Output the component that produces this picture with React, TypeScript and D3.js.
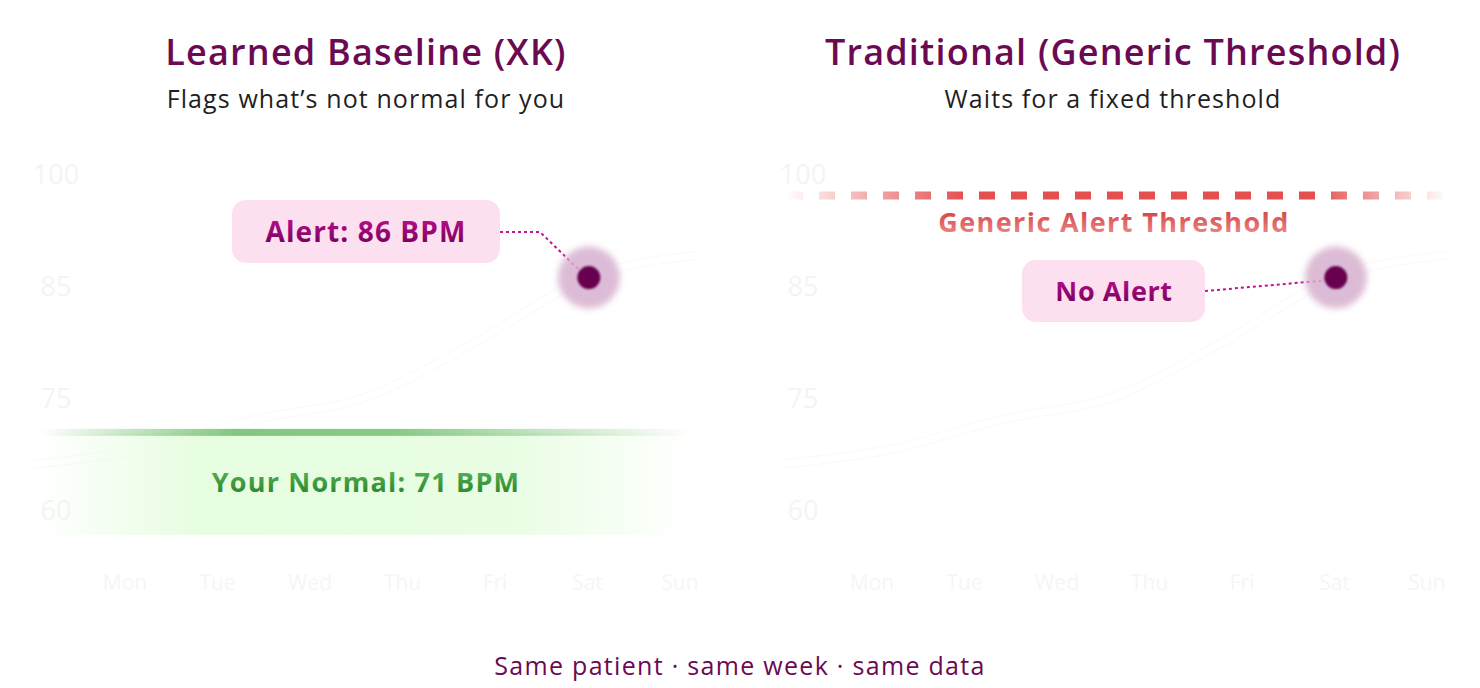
import React from "react";
import * as d3 from "d3";

// week of resting heart-rate readings (same data in both panels)
const days = ["Mon", "Tue", "Wed", "Thu", "Fri", "Sat", "Sun"];
const heartRate = [66, 68, 72, 75, 80, 86, 89];
const yTicks = [100, 85, 75, 60];
const baselineBpm = 71;
const thresholdBpm = 97;
const alertDay = "Sat";

const titles = ["Learned Baseline (XK)", "Traditional (Generic Threshold)"];
const subtitles = ["Flags what’s not normal for you", "Waits for a fixed threshold"];
const footer = "Same patient · same week · same data";

const W = 1480;
const H = 688;
const FONT = "'Open Sans', Lato, sans-serif";
const PURPLE = "#6b0a52";

// tick labels are evenly spaced even though the values are not
const y = d3.scaleLinear().domain([60, 75, 85, 100]).range([509, 397, 285, 173]);

const panelOffsets = [0, 747];

function Panel({ idx, ox }: { idx: number; ox: number }) {
  const lineX = d3.scalePoint<string>().domain(days).range([33 + ox, 700 + ox]);
  const labelX = d3.scalePoint<string>().domain(days).range([125 + ox, 680 + ox]);
  const cx = 366 + ox;

  const line = d3
    .line<number>()
    .x((_, i) => lineX(days[i])!)
    .y((d) => y(d))
    .curve(d3.curveMonotoneX);
  const path = line(heartRate) || "";

  const ai = days.indexOf(alertDay);
  const dotX = lineX(alertDay)!;
  const dotY = y(heartRate[ai]);

  return (
    <g>
      <text x={cx} y={51} textAnchor="middle" dominantBaseline="central" fontSize={36} fontWeight={600} letterSpacing={1.2} fill={PURPLE}>
        {titles[idx]}
      </text>
      <text x={cx} y={98} textAnchor="middle" dominantBaseline="central" fontSize={25} letterSpacing={1.1} fill="#1f1f1f">
        {subtitles[idx]}
      </text>

      {/* y tick labels */}
      {yTicks.map((t) => (
        <text key={t} x={56 + ox} y={y(t)} textAnchor="middle" dominantBaseline="central" fontSize={27} fill="#f4f4f4">
          {t}
        </text>
      ))}
      {/* day labels */}
      {days.map((d) => (
        <text key={d} x={labelX(d)} y={582} textAnchor="middle" dominantBaseline="central" fontSize={21} fill="#f6f6f6">
          {d}
        </text>
      ))}

      {/* faint heart-rate line */}
      <path d={path} fill="none" stroke="#f9f9f9" strokeWidth={9} />
      <path d={path} fill="none" stroke="#ffffff" strokeWidth={7} />

      {idx === 0 ? (
        <g>
          <rect x={40} y={y(baselineBpm) + 6} width={650} height={102} fill="url(#greenBand)" />
          <rect x={40} y={y(baselineBpm) + 2} width={650} height={7} fill="url(#greenLine)" />
          <text x={cx} y={481} textAnchor="middle" dominantBaseline="central" fontSize={27} fontWeight={700} letterSpacing={1.2} fill="url(#greenText)">
            Your Normal: {baselineBpm} BPM
          </text>

          <path
            d={`M500,232 L540,232 L${dotX - 8},${dotY - 6}`}
            fill="none"
            stroke="#c2128f"
            strokeWidth={2}
            strokeDasharray="3 3"
          />
          <rect x={232} y={200} width={268} height={63} rx={14} fill="#fde0ef" />
          <text x={366} y={231} textAnchor="middle" dominantBaseline="central" fontSize={28} fontWeight={700} letterSpacing={1.1} fill="url(#alertText)">
            Alert: {heartRate[ai]} BPM
          </text>
        </g>
      ) : (
        <g>
          <line
            x1={785}
            x2={1447}
            y1={y(thresholdBpm)}
            y2={y(thresholdBpm)}
            stroke="url(#redLine)"
            strokeWidth={8}
            strokeDasharray="16 16"
            strokeDashoffset={-2}
          />
          <text x={1114} y={221} textAnchor="middle" dominantBaseline="central" fontSize={27} fontWeight={700} letterSpacing={1.4} fill="url(#redText)">
            Generic Alert Threshold
          </text>

          <line x1={1205} y1={291} x2={dotX - 12} y2={dotY + 3} stroke="#c2128f" strokeWidth={2} strokeDasharray="3 3" />
          <rect x={1022} y={260} width={183} height={62} rx={14} fill="#fde0ef" />
          <text x={1114} y={290} textAnchor="middle" dominantBaseline="central" fontSize={27} fontWeight={700} letterSpacing={0.6} fill="url(#alertText)">
            No Alert
          </text>
        </g>
      )}

      {/* flagged reading */}
      <circle cx={dotX} cy={dotY} r={31} fill="#d7b0cf" opacity={0.85} filter="url(#halo)" />
      <circle cx={dotX} cy={dotY} r={11.5} fill="#680550" filter="url(#soft)" />
    </g>
  );
}

export default function App() {
  return (
    <svg
      width={W}
      height={H}
      style={{ position: "absolute", left: 0, top: 0, display: "block", background: "#fff" }}
      fontFamily={FONT}
    >
      <defs>
        <linearGradient id="greenLine" x1="0" x2="1" y1="0" y2="0">
          <stop offset="0" stopColor="#7cc47a" stopOpacity={0} />
          <stop offset="0.3" stopColor="#7cc47a" stopOpacity={0.95} />
          <stop offset="0.55" stopColor="#7cc47a" stopOpacity={0.9} />
          <stop offset="1" stopColor="#7cc47a" stopOpacity={0} />
        </linearGradient>
        <linearGradient id="greenBand" x1="0" x2="1" y1="0" y2="0">
          <stop offset="0" stopColor="#e6fde0" stopOpacity={0} />
          <stop offset="0.25" stopColor="#e6fde0" stopOpacity={1} />
          <stop offset="0.72" stopColor="#e6fde0" stopOpacity={0.9} />
          <stop offset="1" stopColor="#e6fde0" stopOpacity={0} />
        </linearGradient>
        <linearGradient id="greenText" x1="0" x2="0" y1="0" y2="1">
          <stop offset="0" stopColor="#62bb62" />
          <stop offset="1" stopColor="#237f23" />
        </linearGradient>
        <linearGradient id="alertText" x1="0" x2="0" y1="0" y2="1">
          <stop offset="0" stopColor="#cc0f9c" />
          <stop offset="1" stopColor="#66004e" />
        </linearGradient>
        <linearGradient id="redText" x1="0" x2="0" y1="0" y2="1">
          <stop offset="0" stopColor="#c62f30" />
          <stop offset="1" stopColor="#f59494" />
        </linearGradient>
        <linearGradient id="redLine" gradientUnits="userSpaceOnUse" x1={785} x2={1447} y1={0} y2={0}>
          <stop offset="0" stopColor="#e25050" stopOpacity={0} />
          <stop offset="0.27" stopColor="#e25050" stopOpacity={1} />
          <stop offset="0.8" stopColor="#e25050" stopOpacity={1} />
          <stop offset="1" stopColor="#e25050" stopOpacity={0} />
        </linearGradient>
        <filter id="halo" x="-50%" y="-50%" width="200%" height="200%">
          <feGaussianBlur stdDeviation={3} />
        </filter>
        <filter id="soft" x="-50%" y="-50%" width="200%" height="200%">
          <feGaussianBlur stdDeviation={0.8} />
        </filter>
      </defs>

      {panelOffsets.map((ox, i) => (
        <Panel key={i} idx={i} ox={ox} />
      ))}

      <text x={740} y={665} textAnchor="middle" dominantBaseline="central" fontSize={25} letterSpacing={1.3} fill={PURPLE}>
        {footer}
      </text>
    </svg>
  );
}
